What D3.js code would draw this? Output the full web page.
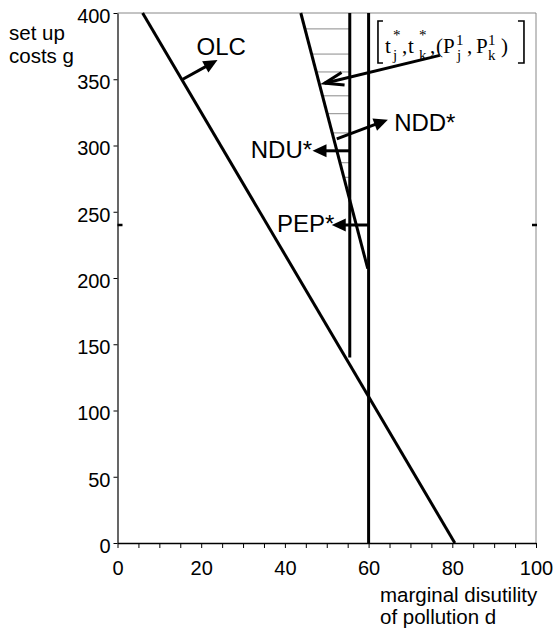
<!DOCTYPE html>
<html><head><meta charset="utf-8">
<script src="https://cdn.jsdelivr.net/npm/d3@7"></script>
<style>body{margin:0;background:#fff} svg{display:block}</style>
</head><body><svg id="c" width="559" height="631"></svg>
<script>
// Axis ticks
const xTickLabels = [0, 20, 40, 60, 80, 100];
const xMinorStep = 5;
const yTicks = [0, 50, 100, 150, 200, 250, 300, 350, 400];

// Curves in (d, g) units
const olcLine = [[6, 400], [80.6, 0]];
const nddLine = [[43.8, 400], [59.8, 207]];
const nduLine = [[55.5, 400], [55.5, 140]];
const pepLine = [[60, 0], [60, 400]];

// Shaded area between NDD* and NDU*: horizontal hatch levels
const hatchG = [388, 369, 355.5, 337.5, 324, 309.5, 296, 287, 276, 266.5];

// Arrows (from, to) in (d, g) units
const arrows = [
  { from: [15.6, 350], to: [23.9, 364.5], head: "solid" },
  { from: [52.4, 305], to: [64.6, 319.5], head: "solid" },
  { from: [55.5, 296], to: [46.6, 296], head: "solid" },
  { from: [60, 240], to: [51.2, 240], head: "solid" },
  { from: [77, 368], to: [49.5, 347], head: "open" }
];

// Text labels: [text, d, g, anchor]
const labels = [
  ["OLC", 18.9, 368, "start"],
  ["NDD*", 66.1, 311, "start"],
  ["NDU*", 46.5, 290.5, "end"],
  ["PEP*", 51.8, 234.5, "end"]
];
const bracketAt = [62, 400]; // top-left of the bracketed tuple

const svg = d3.select("#c");
const x = d3.scaleLinear().domain([0, 100]).range([117.5, 536]);
const y = d3.scaleLinear().domain([0, 400]).range([543, 13]);
const sans = "'Liberation Sans', Arial, sans-serif";
const serif = "'Liberation Serif', 'Times New Roman', serif";

// frame: top and right in grey
svg.append("line").attr("x1", x(0)).attr("x2", x(100)).attr("y1", y(400)).attr("y2", y(400))
  .attr("stroke", "#888").attr("stroke-width", 1);
svg.append("line").attr("x1", x(100)).attr("x2", x(100)).attr("y1", y(0)).attr("y2", y(400))
  .attr("stroke", "#888").attr("stroke-width", 1);

// hatch
const nddAt = g => nddLine[0][0] + (nddLine[0][1] - g) / (nddLine[0][1] - nddLine[1][1]) * (nddLine[1][0] - nddLine[0][0]);
svg.append("g").selectAll("line").data(hatchG).join("line")
  .attr("x1", g => x(nddAt(g))).attr("x2", x(nduLine[0][0]))
  .attr("y1", g => y(g)).attr("y2", g => y(g))
  .attr("stroke", "#8a8a8a").attr("stroke-width", 1);

// axes
const yAxis = d3.axisLeft(y).tickValues(yTicks).tickSize(4).tickSizeOuter(0).tickPadding(3);
const ya = svg.append("g").attr("transform", `translate(${x(0)},0)`).call(yAxis);
ya.selectAll("text").attr("font-family", sans).attr("font-size", 20).attr("fill", "#000").attr("dy", "0.47em");
ya.select(".domain").attr("stroke", "#000").attr("stroke-width", 1.2);

const xAxis = d3.axisBottom(x).tickValues(d3.range(0, 101, xMinorStep))
  .tickFormat(v => xTickLabels.includes(v) ? v : "").tickSize(5).tickSizeOuter(0).tickPadding(6);
const xa = svg.append("g").attr("transform", `translate(0,${y(0)})`).call(xAxis);
xa.selectAll("text").attr("font-family", sans).attr("font-size", 20).attr("fill", "#000").attr("dy", "1.05em");
xa.select(".domain").attr("stroke", "#000").attr("stroke-width", 1.5);

// small marks at the PEP* level on the frame
[[x(0), x(0) + 5], [x(100) - 4, x(100) + 1]].forEach(([a, b]) =>
  svg.append("line").attr("x1", a).attr("x2", b).attr("y1", y(240)).attr("y2", y(240))
    .attr("stroke", "#000").attr("stroke-width", 2.5));

// curves
const line = d3.line().x(p => x(p[0])).y(p => y(p[1]));
[olcLine, nddLine, nduLine, pepLine].forEach(pts =>
  svg.append("path").attr("d", line(pts)).attr("fill", "none")
    .attr("stroke", "#000").attr("stroke-width", 3));

// arrows
arrows.forEach(a => {
  const x1 = x(a.from[0]), y1 = y(a.from[1]), x2 = x(a.to[0]), y2 = y(a.to[1]);
  const ang = Math.atan2(y2 - y1, x2 - x1);
  if (a.head === "solid") {
    const L = 14, W = 6.5;
    const bx = x2 - L * Math.cos(ang), by = y2 - L * Math.sin(ang);
    svg.append("line").attr("x1", x1).attr("y1", y1).attr("x2", bx + 2 * Math.cos(ang)).attr("y2", by + 2 * Math.sin(ang))
      .attr("stroke", "#000").attr("stroke-width", 3);
    const px = -Math.sin(ang), py = Math.cos(ang);
    svg.append("path").attr("d", `M${x2},${y2}L${bx + W * px},${by + W * py}L${bx - W * px},${by - W * py}Z`)
      .attr("fill", "#000");
  } else {
    svg.append("line").attr("x1", x1).attr("y1", y1).attr("x2", x2).attr("y2", y2)
      .attr("stroke", "#000").attr("stroke-width", 3);
    const L = 20, s = 0.33;
    const p = [ang + Math.PI - s, ang + Math.PI + s].map(t => [x2 + L * Math.cos(t), y2 + L * Math.sin(t)]);
    svg.append("path").attr("d", `M${p[0][0]},${p[0][1]}L${x2},${y2}L${p[1][0]},${p[1][1]}`)
      .attr("fill", "none").attr("stroke", "#000").attr("stroke-width", 3).attr("stroke-linejoin", "miter");
  }
});

// curve labels
svg.append("g").selectAll("text").data(labels).join("text")
  .attr("x", l => x(l[1])).attr("y", l => y(l[2])).attr("text-anchor", l => l[3])
  .attr("font-family", sans).attr("font-size", 24).attr("fill", "#000").text(l => l[0]);

// bracketed tuple [t*_j, t*_k, (P^1_j, P^1_k)]
const bx0 = x(bracketAt[0]), by0 = y(bracketAt[1]);
const tg = svg.append("g").attr("transform", `translate(${bx0},${by0})`)
  .attr("font-family", serif).attr("fill", "#000");
const glyphs = [
  ["t", 8, 40, 21], ["*", 16, 27, 15], ["j", 16, 47, 15], [",", 25, 40, 21],
  ["t", 31, 40, 21], ["*", 42, 27, 15], ["k", 42, 47, 15], [",", 53, 40, 21],
  ["(", 59, 40, 21], ["P", 66, 40, 21], ["1", 79, 32, 15], ["j", 80, 47, 15],
  [",", 90, 40, 21], ["P", 99, 40, 21], ["1", 111, 32, 15], ["k", 111, 47, 15],
  [")", 124, 40, 21]
];
tg.selectAll("text").data(glyphs).join("text")
  .attr("x", d => d[1]).attr("y", d => d[2]).attr("font-size", d => d[3]).text(d => d[0]);
tg.append("path").attr("d", "M6,8H1V50H6").attr("fill", "none").attr("stroke", "#000").attr("stroke-width", 1.6);
tg.append("path").attr("d", "M141,8H147V50H141").attr("fill", "none").attr("stroke", "#000").attr("stroke-width", 1.6);

// axis titles
const yt = svg.append("text").attr("font-family", sans).attr("font-size", 20.5).attr("fill", "#000");
yt.append("tspan").attr("x", 9).attr("y", 40).text("set up");
yt.append("tspan").attr("x", 9).attr("y", 63).text("costs g");
const xt = svg.append("text").attr("font-family", sans).attr("font-size", 20.5).attr("fill", "#000");
xt.append("tspan").attr("x", 380).attr("y", 602).text("marginal disutility");
xt.append("tspan").attr("x", 380).attr("y", 624).text("of pollution d");
</script></body></html>
